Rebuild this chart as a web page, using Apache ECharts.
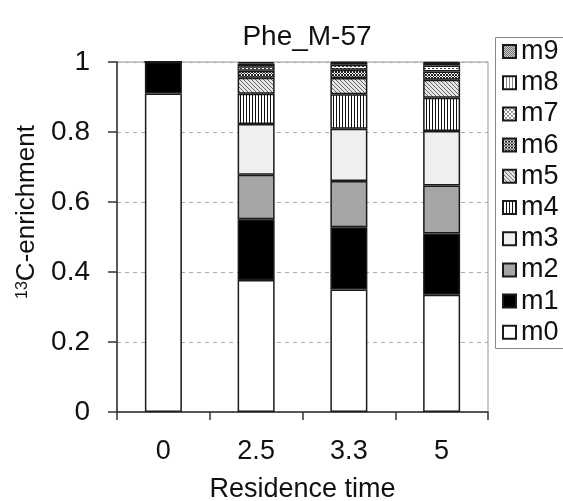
<!DOCTYPE html>
<html>
<head>
<meta charset="utf-8">
<script src="https://cdn.jsdelivr.net/npm/echarts@6/dist/echarts.min.js"></script>
<style>html,body{margin:0;padding:0;background:#fff}#c{width:563px;height:501px}</style>
</head>
<body>
<div id="c"></div>
<script>
var categories = ['0', '2.5', '3.3', '5'];
var seriesNames = ['m0','m1','m2','m3','m4','m5','m6','m7','m8','m9'];
var m0 = [0.91, 0.377, 0.350, 0.335];
var m1 = [0.09, 0.174, 0.178, 0.175];
var m2 = [0, 0.127, 0.132, 0.137];
var m3 = [0, 0.145, 0.149, 0.156];
var m4 = [0, 0.086, 0.099, 0.095];
var m5 = [0, 0.046, 0.046, 0.051];
var m6 = [0, 0.020, 0.024, 0.024];
var m7 = [0, 0.013, 0.014, 0.017];
var m8 = [0, 0.008, 0.006, 0.007];
var m9 = [0, 0.004, 0.002, 0.003];
var values = [m0, m1, m2, m3, m4, m5, m6, m7, m8, m9];
var yTicks = [0, 0.2, 0.4, 0.6, 0.8, 1];

function tile(w, h, bg, fg, pts) {
  var c = document.createElement('canvas');
  c.width = w; c.height = h;
  var g = c.getContext('2d');
  g.fillStyle = bg; g.fillRect(0, 0, w, h);
  g.fillStyle = fg;
  pts.forEach(function (p) { g.fillRect(p[0], p[1], 1, 1); });
  return { image: c, repeat: 'repeat' };
}
var fills = [
  '#ffffff',
  '#000000',
  '#a6a6a6',
  '#efefef',
  tile(3, 1, '#ffffff', '#111111', [[0,0]]),
  tile(4, 4, '#e6e6e6', '#666666', [[0,0],[1,1],[2,2],[3,3]]),
  tile(3, 3, '#ffffff', '#222222', [[0,0],[1,1],[2,0],[0,2],[2,2]]),
  tile(4, 4, '#ffffff', '#333333', [[0,0],[2,2],[1,0],[3,2]]),
  tile(3, 1, '#ffffff', '#8a8a8a', [[0,0]]),
  tile(2, 2, '#d0d0d0', '#707070', [[0,0],[1,1]])
];

var series = seriesNames.map(function (n, i) {
  return {
    name: n, type: 'bar', stack: 'all', barWidth: 37,
    data: values[i],
    itemStyle: { color: fills[i], borderColor: '#1a1a1a', borderWidth: 1.5 },
    emphasis: { disabled: true }
  };
});

var chart = echarts.init(document.getElementById('c'), null, { renderer: 'canvas' });
chart.setOption({
  backgroundColor: '#ffffff',
  animation: false,
  textStyle: { fontFamily: 'Liberation Sans, Arial, sans-serif' },
  title: {
    text: 'Phe_M-57', left: 302, top: 18, textAlign: 'center',
    textStyle: { fontSize: 28, fontWeight: 'normal', color: '#111', fontFamily: 'Liberation Sans, Arial, sans-serif' }
  },
  graphic: [{
    type: 'rect', left: 493, top: 35, silent: true,
    shape: { width: 100, height: 311 },
    style: { fill: 'none', stroke: '#888', lineWidth: 1 }
  }],
  legend: {
    orient: 'vertical', left: 493, top: 38,
    data: seriesNames.slice().reverse(),
    icon: 'rect',
    itemWidth: 13, itemHeight: 13, itemGap: 4.2,
    padding: [0, 20, 0, 9],
    textStyle: { fontSize: 27, color: '#111' },
    selectedMode: false
  },
  grid: { left: 117, right: 75, top: 62, bottom: 89, show: true, borderColor: '#999', borderWidth: 1,
    containLabel: false, outerBoundsMode: 'none' },
  xAxis: {
    type: 'category', data: categories,
    axisLine: { lineStyle: { color: '#333', width: 1.5 } },
    axisTick: { show: true, length: 8, lineStyle: { color: '#333', width: 1.5 } },
    axisLabel: { fontSize: 27, color: '#111', margin: 26 },
    name: 'Residence time', nameLocation: 'middle', nameGap: 64,
    nameTextStyle: { fontSize: 27, color: '#111' }
  },
  yAxis: {
    type: 'value', min: 0, max: 1, interval: 0.2,
    axisLine: { show: true, lineStyle: { color: '#333', width: 1.5 } },
    axisTick: { show: true, length: 9, lineStyle: { color: '#333', width: 1.5 } },
    axisLabel: { fontSize: 28, color: '#111', margin: 27,
      formatter: function (v) { var t = yTicks.filter(function (x) { return Math.abs(x - v) < 1e-9; }); return t.length ? String(t[0]) : ''; } },
    splitLine: { show: true, lineStyle: { color: '#aaa', type: [4, 4], width: 1 } },
    name: '{sup|13}C-enrichment', nameLocation: 'middle', nameGap: 70, nameRotate: 90,
    nameTextStyle: { fontSize: 26, color: '#111', padding: [0, 0, 0, 50],
      rich: { sup: { fontSize: 16, color: '#111', verticalAlign: 'top', padding: [0, 0, 10, 0] } } }
  },
  series: series
});
</script>
</body>
</html>
